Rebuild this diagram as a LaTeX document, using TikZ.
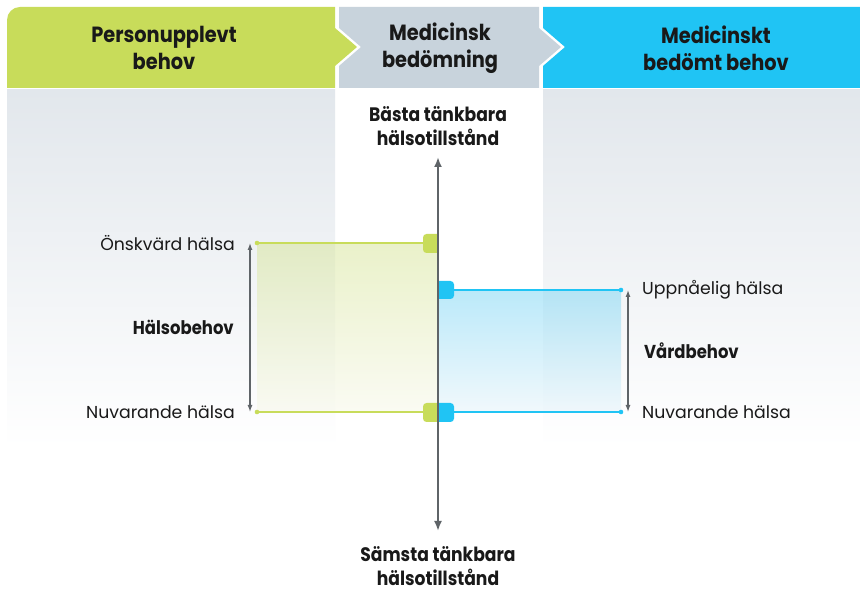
\documentclass[tikz,border=0pt]{standalone}
\usepackage{fontspec}
\setmainfont{Poppins}[BoldFeatures={FakeStretch=0.88}]
\usetikzlibrary{arrows.meta}
\definecolor{hgreen}{RGB}{200,220,90}
\definecolor{hgrey}{RGB}{200,211,220}
\definecolor{hblue}{RGB}{32,196,244}
\definecolor{panel}{RGB}{226,231,236}
\definecolor{axisc}{RGB}{95,100,104}
\definecolor{txt}{RGB}{25,25,25}
\definecolor{gtop}{RGB}{214,229,150}
\definecolor{gbot}{RGB}{247,248,232}
\definecolor{btop}{RGB}{120,213,245}
\definecolor{bbot}{RGB}{228,243,250}
\tikzset{
  headtext/.style={text=txt, align=center, font=\fontsize{22}{27}\selectfont\bfseries},
  axistext/.style={text=txt, align=center, inner sep=0pt, font=\fontsize{19.5}{24.5}\selectfont\bfseries},
  lbl/.style={text=txt, font=\fontsize{17.3}{20}\selectfont, inner sep=0pt},
  blbl/.style={text=txt, font=\fontsize{18.7}{20}\selectfont\bfseries, inner sep=0pt},
  gline/.style={draw=hgreen, line width=1.4pt},
  bline/.style={draw=hblue, line width=1.4pt},
  dimarrow/.style={draw=axisc, line width=1.3pt, {Latex[length=7pt,width=5pt]}-{Latex[length=7pt,width=5pt]}},
}
\begin{document}
\begin{tikzpicture}[x=1pt,y=-1pt]
\useasboundingbox (0,0) rectangle (860,593);
\fill[white] (0,0) rectangle (860,593);
% background panels
\shade[top color=panel, bottom color=white] (7,90) rectangle (335,448);
\shade[top color=panel, bottom color=white] (543,90) rectangle (860,448);
% header shapes
\fill[hgreen] (7,88) -- (7,21) [rounded corners=13pt] -- (7,7) [sharp corners] -- (335,7) -- (335,28) -- (357,47) -- (335,66) -- (335,88) -- cycle;
\fill[hgrey] (339,7) -- (539,7) -- (539,28) -- (561,47) -- (539,66) -- (539,88) -- (339,88) -- (339,66) -- (361,47) -- (339,28) -- cycle;
\fill[hblue] (543,7) -- (860,7) -- (860,88) -- (543,88) -- (543,66) -- (565,47) -- (543,28) -- cycle;
\node[headtext] (h1) at (164,48) {Personupplevt\\behov};
\node[headtext] (h2) at (440,48) {Medicinsk\\bedömning};
\node[headtext] (h3) at (716,48) {Medicinskt\\bedömt behov};
% coordinates
\coordinate (gTopL) at (257,243);
\coordinate (gTopR) at (438,243);
\coordinate (gBotL) at (257,412);
\coordinate (gBotR) at (438,412);
\coordinate (bTopL) at (438,290);
\coordinate (bTopR) at (621,290);
\coordinate (bBotL) at (438,412);
\coordinate (bBotR) at (621,412);
% shaded areas
\shade[top color=gtop, bottom color=gbot, fill opacity=0.5] (gTopL) rectangle (gBotR);
\shade[top color=btop, bottom color=bbot, fill opacity=0.5] (bTopL) rectangle (bBotR);
% level lines
\draw[gline] (gTopL) -- (gTopR);
\draw[gline] (gBotL) -- (gBotR);
\draw[bline] (bTopL) -- (bTopR);
\draw[bline] (bBotL) -- (bBotR);
\fill[hgreen] (gTopL) circle (2.3);
\fill[hgreen] (gBotL) circle (2.3);
\fill[hblue] (bTopR) circle (2.3);
\fill[hblue] (bBotR) circle (2.3);
% markers
\begin{scope}
\clip (380,200) rectangle (438,440);
\fill[hgreen, rounded corners=3.5pt] (423,234) rectangle (450,253);
\fill[hgreen, rounded corners=3.5pt] (423,403) rectangle (450,422);
\end{scope}
\begin{scope}
\clip (438,200) rectangle (500,440);
\fill[hblue, rounded corners=3.5pt] (425,281) rectangle (454,299);
\fill[hblue, rounded corners=3.5pt] (425,403) rectangle (454,422);
\end{scope}
% axis
\node[axistext] (best) at (438,126) {Bästa tänkbara\\hälsotillstånd};
\node[axistext] (worst) at (438,566) {Sämsta tänkbara\\hälsotillstånd};
\coordinate (axTop) at (438,157);
\coordinate (axBot) at (438,531);
\draw[draw=axisc, line width=2.2pt, {Latex[length=10pt,width=8pt]}-{Latex[length=10pt,width=8pt]}] (axTop) -- (axBot);
% dimension arrows
\coordinate (d1t) at (250,243);
\coordinate (d1b) at (250,412);
\coordinate (d2t) at (628,290);
\coordinate (d2b) at (628,412);
\draw[dimarrow] (d1t) -- (d1b);
\draw[dimarrow] (d2t) -- (d2b);
% labels
\node[lbl, anchor=east] (l1) at (235,243) {Önskvärd hälsa};
\node[blbl, anchor=east] (l2) at (234,327) {Hälsobehov};
\node[lbl, anchor=east] (l3) at (235,412) {Nuvarande hälsa};
\node[lbl, anchor=west] (r1) at (642,290) {Uppnåelig hälsa};
\node[blbl, anchor=west] (r2) at (644,351) {Vårdbehov};
\node[lbl, anchor=west] (r3) at (642,412) {Nuvarande hälsa};
\end{tikzpicture}
\end{document}
